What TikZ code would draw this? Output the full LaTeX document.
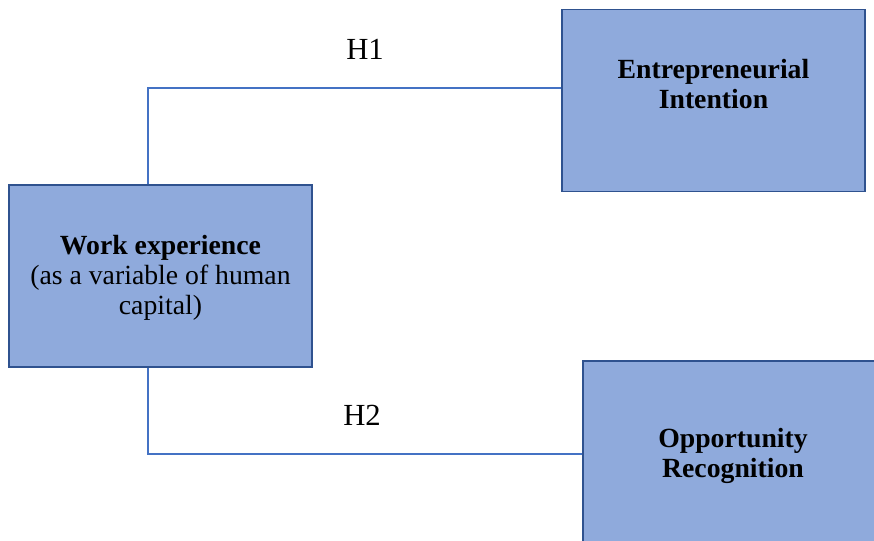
\documentclass[tikz,border=0pt]{standalone}
\usepackage{fontspec}
\setmainfont{Liberation Serif}
\usetikzlibrary{positioning}
\definecolor{boxfill}{RGB}{143,170,220}
\definecolor{boxline}{RGB}{47,82,143}
\definecolor{linkline}{RGB}{68,114,196}
\tikzset{
  varbox/.style={draw=boxline, line width=1.3pt, fill=boxfill, minimum width=227pt, minimum height=136.5pt, inner sep=0pt},
  boxtext/.style={align=center, inner sep=0.75pt, font=\fontsize{20.8}{22.5}\selectfont},
  hyplabel/.style={inner sep=0.75pt, font=\fontsize{23}{28}\selectfont},
  link/.style={draw=linkline, line width=1pt}
}
\begin{document}
\begin{tikzpicture}[x=0.75pt,y=0.75pt,yscale=-1,xscale=1]
		\useasboundingbox (0,0) rectangle (874,540);
		\clip (0,0) rectangle (874,540);

		%Shape: Rectangle [work experience]
		\node [varbox] (work) at (160.5,276) {};
		%Shape: Rectangle [entrepreneurial intention]
		\node [varbox] (intent) at (713.5,100.5) {};
		%Shape: Rectangle [opportunity recognition]
		\node [varbox] (oppo) at (734.5,452) {};

		% Text Node
		\node [boxtext] (worktext) at (160.5,278) {\textbf{Work experience}\\(as a variable of human\\capital)};
		% Text Node
		\node [boxtext] (intenttext) at (713.5,84) {\textbf{Entrepreneurial}\\\textbf{Intention}};
		% Text Node
		\node [boxtext] (oppotext) at (733,456) {\textbf{Opportunity}\\\textbf{Recognition}};

		%Straight Lines [H1]
		\coordinate (bendup) at (148,88);
		\draw [link] (work.north -| bendup) |- (intent.west |- bendup);
		%Straight Lines [H2]
		\coordinate (benddown) at (148,454);
		\draw [link] (work.south -| benddown) |- (oppo.west |- benddown);

		% Text Node
		\node [hyplabel] (hone) at (365,49) {H1};
		% Text Node
		\node [hyplabel] (htwo) at (362,415) {H2};

	\end{tikzpicture}
\end{document}
